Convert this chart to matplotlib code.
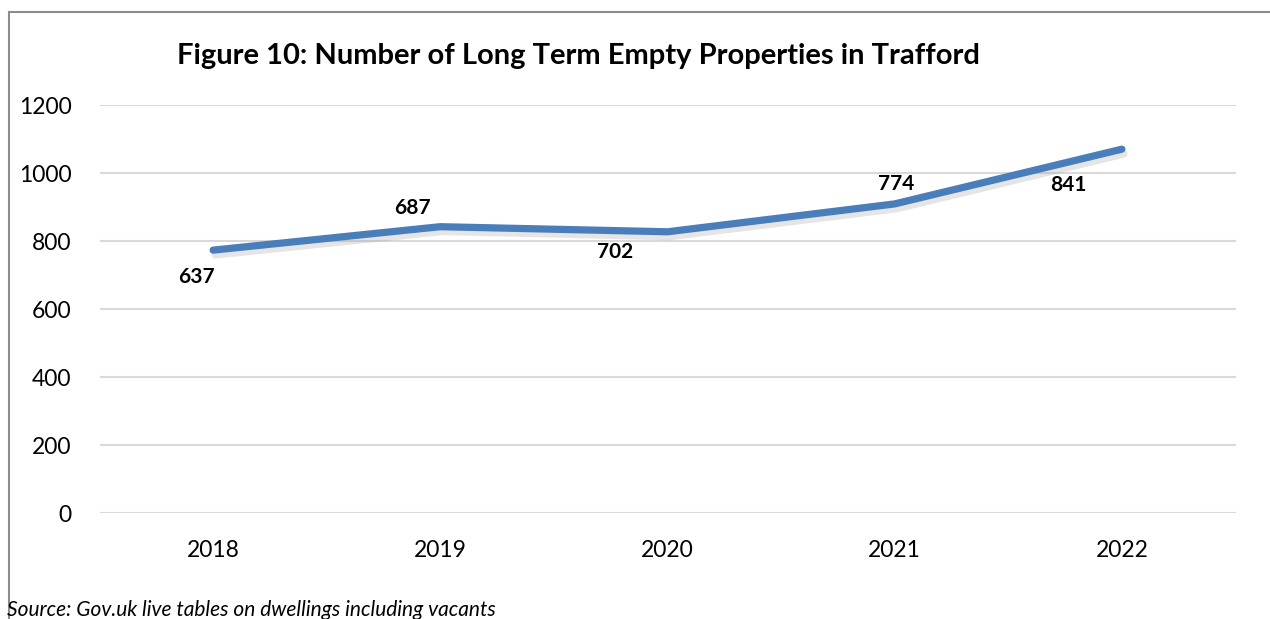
import matplotlib.pyplot as plt
import matplotlib.patheffects as pe
from matplotlib.patches import Rectangle

plt.rcParams['font.family'] = ['Lato', 'DejaVu Sans']

# 年份与数据
years = ['2018', '2019', '2020', '2021', '2022']
line_values = [774, 843, 828, 910, 1071]
label_values = [637, 687, 702, 774, 841]
y_ticks = [0, 200, 400, 600, 800, 1000, 1200]

title = 'Figure 10: Number of Long Term Empty Properties in Trafford'
source = 'Source: Gov.uk live tables on dwellings including vacants'

fig = plt.figure(figsize=(12.7, 6.19), dpi=100)
ax = fig.add_axes([99.5 / 1270, 105.7 / 619, 1136 / 1270, 408 / 619])

x = list(range(len(years)))
ax.plot(x, line_values, color='#4A7EBB', linewidth=5.2, solid_capstyle='round',
        solid_joinstyle='round', zorder=3,
        path_effects=[pe.SimpleLineShadow(offset=(1.5, -3.5), shadow_color='#999999', alpha=0.25),
                      pe.Normal()])

# 数据标签偏移（像素）
offsets = [(-17, -27), (-28, 19), (-52, -20), (1, 20), (-54, -36)]
for i, v in enumerate(label_values):
    ax.annotate(str(v), (x[i], line_values[i]), xytext=offsets[i],
                textcoords='offset pixels', ha='center', va='center',
                fontsize=15, fontweight='bold', color='black', zorder=4)

ax.set_xlim(-0.5, len(years) - 0.5)
ax.set_ylim(0, 1200)
ax.set_xticks(x)
ax.set_xticklabels(years)
ax.set_yticks(y_ticks)
ax.tick_params(axis='both', length=0, labelsize=16.5, colors='black')
ax.tick_params(axis='y', pad=20)
ax.tick_params(axis='x', pad=19)
ax.grid(axis='y', color='#D9D9D9', linewidth=1.5)
ax.set_axisbelow(True)
for s in ax.spines.values():
    s.set_visible(False)

fig.text(177 / 1270, 1 - 56 / 619, title, fontsize=21, fontweight='bold',
         ha='left', va='center')
fig.text(7 / 1270, 1 - 610 / 619, source, fontsize=15, style='italic',
         ha='left', va='center')

# 外框
fig.patches.append(Rectangle((9 / 1270, -0.1), 1.1, 0.1 + 1 - 11.5 / 619,
                             transform=fig.transFigure, fill=False,
                             edgecolor='#8C8C8C', linewidth=1.5))

plt.savefig('out.png', dpi=100)
